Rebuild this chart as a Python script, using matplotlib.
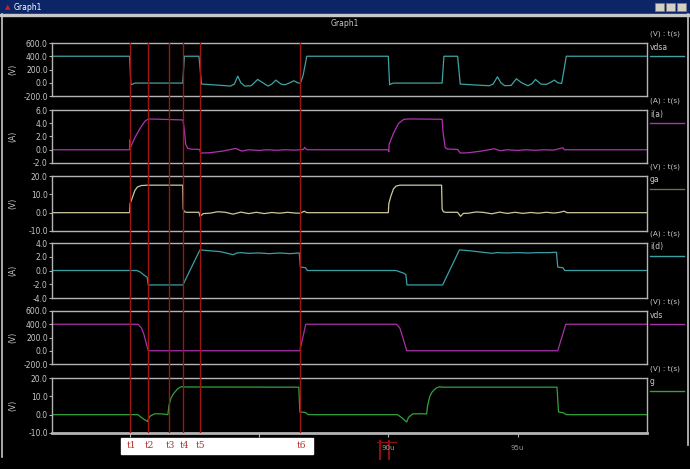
import matplotlib
matplotlib.use("Agg")
import matplotlib.pyplot as plt
from matplotlib.patches import Rectangle
from matplotlib.ticker import FormatStrFormatter

# ---- data (time in microseconds) ----
t_vdsa = [77.0, 80.0, 80.05, 80.12, 80.2, 82.05, 82.12, 82.68, 82.78, 83.2, 83.9, 84.05, 84.18, 84.3, 84.45,
          84.7, 84.95, 85.15, 85.35, 85.5, 85.65, 85.85, 86.0, 86.2, 86.35, 86.5, 86.6, 86.7, 86.85,
          90.0, 90.05, 90.12, 90.2, 92.08, 92.15, 92.68, 92.78, 93.2, 93.9, 94.05, 94.22, 94.35, 94.5,
          94.75, 94.95, 95.15, 95.4, 95.55, 95.69, 95.9, 96.1, 96.25, 96.42, 96.55, 96.7, 96.75, 96.88, 100.0]
vdsa = [400, 400, -30, -20, -5, -5, 400, 400, -20, -30, -50, -20, 100, 0, -50,
        -45, 50, 0, -50, -20, 40, -20, -30, 0, 30, 0, -10, 100, 400,
        400, -30, -15, -5, -5, 400, 400, -20, -30, -45, -20, 90, 0, -45,
        -40, 60, 0, -45, -15, 50, -20, -25, 0, 40, 0, -10, 100, 400, 400]

t_ia = [77.0, 80.0, 80.01, 80.03, 80.2, 80.4, 80.59, 80.72, 81.2, 82.06, 82.1, 82.17, 82.25, 82.4, 82.7,
        82.75, 83.1, 83.6, 84.1, 84.33, 84.6, 85.0, 85.3, 85.7, 86.0, 86.4, 86.72, 86.77, 86.85,
        90.0, 90.02, 90.03, 90.2, 90.4, 90.6, 90.8, 92.08, 92.12, 92.2, 92.3, 92.68,
        92.78, 93.1, 93.6, 94.1, 94.33, 94.6, 95.0, 95.3, 95.7, 96.0, 96.4, 96.75, 96.8, 96.88, 100.0]
ia = [0, 0, 1.5, 0.3, 1.8, 3.2, 4.3, 4.65, 4.6, 4.5, 3.5, 0.8, 0.2, 0.08, 0.05,
      -0.5, -0.45, -0.2, 0.2, -0.2, 0.0, -0.1, 0.0, -0.08, 0.0, -0.05, 0.05, 0.35, 0.0,
      0, -0.3, 0.8, 2.5, 4.0, 4.6, 4.65, 4.6, 2.5, 0.3, 0.1, 0.05,
      -0.5, -0.45, -0.2, 0.15, -0.15, 0.0, -0.1, 0.0, -0.08, 0.0, -0.05, 0.3, 0.0, 0.0, 0.0]

t_ga = [77.0, 80.0, 80.02, 80.1, 80.2, 80.3, 80.45, 80.7, 82.05, 82.07, 82.12, 82.2, 82.68, 82.72, 82.85,
        83.1, 83.4, 83.7, 84.0, 84.3, 84.6, 84.9, 85.2, 85.5, 85.8, 86.1, 86.4, 86.6, 86.75, 86.85,
        90.0, 90.02, 90.1, 90.2, 90.3, 90.45, 90.7, 92.06, 92.08, 92.13, 92.2, 92.68, 92.79, 92.9,
        93.1, 93.4, 93.7, 94.0, 94.3, 94.6, 94.9, 95.2, 95.5, 95.8, 96.1, 96.4, 96.6, 96.8, 96.9, 100.0]
ga = [0, 0, 5, 8, 12, 14, 14.8, 15, 15, 2, 0.5, 0.2, 0.2, -2, -0.5,
      -0.3, 0.5, 0.2, -0.8, 0.3, -0.5, 0.2, -0.5, 0.1, -0.3, 0.2, -0.2, -0.3, 0.8, 0,
      0, 5, 9, 13, 14.5, 15, 15, 15, 2, 0.5, 0.2, 0.2, -2, -0.4,
      -0.3, 0.4, 0.1, -0.6, 0.3, -0.4, 0.2, -0.4, 0.1, -0.3, 0.2, -0.2, 0.1, 0.8, 0, 0]

t_id = [77.0, 80.28, 80.4, 80.5, 80.68, 80.72, 82.06, 82.72, 83.0, 83.5, 84.0, 84.15, 84.3, 84.6, 85.0,
        85.4, 85.8, 86.2, 86.56, 86.6, 86.8, 86.87,
        90.3, 90.6, 90.68, 90.72, 92.1, 92.75, 93.2, 94.0, 94.2, 94.6, 95.0, 95.4, 95.8, 96.2,
        96.5, 96.55, 96.75, 96.82, 100.0]
i_d = [0, 0, -0.2, -0.5, -1.0, -2.1, -2.1, 3.0, 2.9, 2.75, 2.3, 2.55, 2.6, 2.5, 2.55,
       2.45, 2.55, 2.45, 2.55, 0.5, 0.4, 0,
       0, -0.4, -0.6, -2.1, -2.1, 3.0, 2.85, 2.5, 2.6, 2.55, 2.6, 2.55, 2.6, 2.6,
       2.65, 0.5, 0.4, 0, 0]

t_vds = [77.0, 80.32, 80.45, 80.55, 80.65, 80.72, 86.58, 86.81,
         90.32, 90.45, 90.6, 90.71, 96.55, 96.86, 100.0]
vds = [400, 400, 350, 250, 100, 0, 0, 400,
       400, 340, 150, 0, 0, 400, 400]

t_g = [77.0, 80.32, 80.5, 80.7, 80.72, 80.8, 80.98, 81.25, 81.48, 81.52, 81.6, 81.7, 81.85, 82.0, 82.15,
       86.54, 86.58, 86.8, 86.9,
       90.36, 90.55, 90.71, 90.78, 90.94, 91.2, 91.48, 91.52, 91.6, 91.7, 91.85, 91.98, 92.1,
       96.52, 96.58, 96.77, 96.88, 100.0]
g = [0, 0, -2, -3.8, -2.5, -0.7, 0.5, 0.4, 0, 5, 9, 11.5, 14, 15.3, 15.1,
     15, 1.5, 1.2, 0,
     0, -2, -4, -1.5, 0.4, 0.5, 0.4, 5, 9.8, 12.5, 14.5, 15.2, 15,
     15, 1.5, 1.0, 0, 0]

markers = [80.01, 80.73, 81.52, 82.06, 82.71, 86.58]
marker_labels = ["t1", "t2", "t3", "t4", "t5", "t6"]

panels = [
    (t_vdsa, vdsa, "vdsa", "(V)", "(V) : t(s)", "#3fa3a3", (-200, 600), [-200, 0, 200, 400, 600]),
    (t_ia, ia, "i(a)", "(A)", "(A) : t(s)", "#b132b1", (-2, 6), [-2, 0, 2, 4, 6]),
    (t_ga, ga, "ga", "(V)", "(V) : t(s)", "#cfc89a", (-10, 20), [-10, 0, 10, 20]),
    (t_id, i_d, "i(d)", "(A)", "(A) : t(s)", "#3aa0a6", (-4, 4), [-4, -2, 0, 2, 4]),
    (t_vds, vds, "vds", "(V)", "(V) : t(s)", "#a832a8", (-200, 600), [-200, 0, 200, 400, 600]),
    (t_g, g, "g", "(V)", "(V) : t(s)", "#33a23c", (-10, 20), [-10, 0, 10, 20]),
]
legend_colors = ["#3fa3a3", "#b132b1", "#6e6a58", "#3aa0a6", "#a832a8", "#33a23c"]
x_ticks = [80, 85, 90, 95]
x_tick_labels = ["", "", "90u", "95u"]   # 80u / 85u sit under the white label box

# ---- layout in pixels ----
W, H = 690, 469
fig = plt.figure(figsize=(W / 100, H / 100), dpi=100, facecolor="black")


def ax_px(x0, y0, x1, y1, **kw):
    return fig.add_axes([x0 / W, 1 - y1 / H, (x1 - x0) / W, (y1 - y0) / H], **kw)


# window chrome
chrome = ax_px(0, 0, W, H)
chrome.set_xlim(0, W)
chrome.set_ylim(H, 0)
chrome.axis("off")
chrome.add_patch(Rectangle((0, 0), W, 14, color="#0b2567"))
chrome.add_patch(Rectangle((0, 14), W, 2, color="#c8c8c8"))
chrome.plot([2, 2], [14, 457], color="#c8c8c8", lw=1.2)
chrome.plot([688, 688], [14, 445], color="#c8c8c8", lw=1.2)
chrome.text(5, 7.5, "\u25b2", color="#d02020", fontsize=5, va="center")
chrome.text(14, 7.5, "Graph1", color="white", fontsize=5.5, va="center")
for bx in [655, 666, 677]:
    chrome.add_patch(Rectangle((bx, 3), 9, 8, facecolor="#d4d0c8", edgecolor="#808080", lw=0.5))
chrome.text(345, 24, "Graph1", color="#c8c8c8", fontsize=5.5, ha="center", va="center")

tops = [43, 110, 176, 243, 311, 378]
heights = [53, 53, 55, 55, 53, 55]
frame = "#b4b4b4"

for i, (tt, vv, name, unit, header, col, ylim, yt) in enumerate(panels):
    top = tops[i]
    bot = top + heights[i]
    ax = ax_px(52, top, 647, bot)
    ax.set_facecolor("black")
    ax.plot(tt, vv, color=col, lw=0.9)
    ax.set_xlim(77, 100)
    ax.set_ylim(*ylim)
    ax.set_yticks(yt)
    ax.yaxis.set_major_formatter(FormatStrFormatter("%.1f"))
    for s in ax.spines.values():
        s.set_color(frame)
        s.set_linewidth(1)
    ax.tick_params(axis="y", colors=frame, labelcolor="#c8c8c8", labelsize=5.5,
                   length=2.5, width=0.8, pad=0.5)
    if i == len(panels) - 1:
        ax.set_xticks(x_ticks)
        ax.set_xticklabels(x_tick_labels)
        ax.tick_params(axis="x", colors=frame, labelcolor="#9a9a9a", labelsize=5,
                       length=3, width=0.8, pad=6)
        ax.spines["bottom"].set_linewidth(2)
    else:
        ax.set_xticks([])
    ax.text(-0.066, 0.5, unit, transform=ax.transAxes, rotation=90, color="#c8c8c8",
            fontsize=5.5, ha="center", va="center")
    chrome.text(650, top - 9, header, color="#c8c8c8", fontsize=5.2, va="center")
    chrome.text(650, top + 4, name, color="#c8c8c8", fontsize=5.5, va="center")
    chrome.plot([650, 684], [top + 13, top + 13], color=legend_colors[i], lw=1)

# red marker lines over all panels, with the white label box on top
vax = ax_px(52, 43, 647, 433)
vax.set_xlim(77, 100)
vax.set_ylim(0, 1)
vax.patch.set_alpha(0)
vax.axis("off")
box = Rectangle((121, 438), 192, 16, color="white", transform=chrome.transData, clip_on=False)
vax.add_patch(box)
for tm, lab in zip(markers, marker_labels):
    vax.axvline(tm, color="#a01414", lw=1)
    vax.text(tm + 0.05, -0.033, lab, color="#b03030", fontsize=6.5, family="DejaVu Serif",
             ha="center", va="center", clip_on=False)

# red scribble near 90u
chrome.plot([380, 380], [441, 459], color="#8a1010", lw=1.5)
chrome.plot([389, 389], [441, 459], color="#8a1010", lw=1.5)
chrome.plot([377, 396], [442, 442], color="#8a1010", lw=1)

fig.savefig("out.png", dpi=100, facecolor="black")
